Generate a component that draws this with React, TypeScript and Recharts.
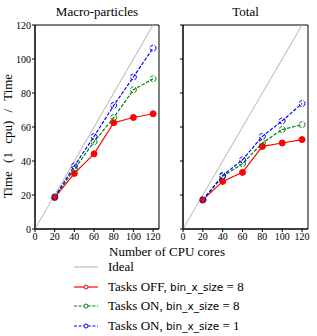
import React from "react";
import {
  LineChart,
  Line,
  XAxis,
  YAxis,
  ReferenceArea,
} from "recharts";

// cores used in the scaling runs
const cores = [20, 40, 60, 80, 100, 120];
const idealCores = [0, 120];
const ticks = [0, 20, 40, 60, 80, 100, 120];

// speed-up, macro-particles part
const macroTasksOff8 = [18.5, 32.7, 44.2, 62.5, 65.6, 67.8];
const macroTasksOn8 = [18.6, 35.2, 51.3, 65.6, 81.9, 88.4];
const macroTasksOn1 = [18.9, 37.1, 54.4, 72.7, 89.4, 106.4];

// speed-up, total time
const totalTasksOff8 = [17.1, 28.0, 33.3, 48.6, 50.6, 52.6];
const totalTasksOn8 = [17.0, 31.0, 38.4, 50.6, 58.5, 61.4];
const totalTasksOn1 = [17.2, 31.5, 40.7, 54.5, 63.6, 73.8];

const SERIF = "'Liberation Serif', 'DejaVu Serif', serif";
const RED = "#ff0000";
const GREEN = "#008000";
const BLUE = "#0000ff";
const IDEAL = "#bfbfbf";

const toRows = (off: number[], on8: number[], on1: number[]) =>
  cores.map((c, i) => ({ cores: c, off: off[i], on8: on8[i], on1: on1[i] }));

const idealRows = idealCores.map((c) => ({ cores: c, ideal: c }));

const tickStyle = { fontSize: 10, fontFamily: SERIF, fill: "#000" };

function Panel({
  rows,
  width,
  yWidth,
  showYLabels,
}: {
  rows: any[];
  width: number;
  yWidth: number;
  showYLabels: boolean;
}) {
  return (
    <LineChart
      width={width}
      height={250}
      data={rows}
      margin={{ top: 25, right: 7, left: 0, bottom: 0 }}
    >
      <XAxis
        dataKey="cores"
        type="number"
        domain={[0, 126]}
        ticks={ticks}
        interval={0}
        allowDataOverflow
        height={21}
        tickSize={3}
        tickMargin={1}
        tick={tickStyle}
        stroke="#000"
        tickLine={{ stroke: "#000" }}
      />
      <YAxis
        type="number"
        domain={[0, 120]}
        ticks={ticks}
        interval={0}
        width={yWidth}
        tickSize={3}
        tickMargin={1}
        tick={tickStyle}
        tickFormatter={showYLabels ? undefined : () => ""}
        stroke="#000"
        tickLine={{ stroke: "#000" }}
      />
      <ReferenceArea
        x1={0}
        x2={126}
        y1={0}
        y2={120}
        fill="none"
        stroke="#000"
        strokeWidth={1}
        ifOverflow="visible"
      />
      <Line
        data={idealRows}
        dataKey="ideal"
        stroke={IDEAL}
        strokeWidth={1.1}
        dot={false}
        isAnimationActive={false}
      />
      <Line
        dataKey="off"
        stroke={RED}
        strokeWidth={1.2}
        dot={{ r: 3, fill: RED, stroke: RED, strokeWidth: 1 }}
        isAnimationActive={false}
      />
      <Line
        dataKey="on8"
        stroke={GREEN}
        strokeWidth={1.2}
        strokeDasharray="3.5 1.6"
        dot={{ r: 3, fill: "none", stroke: GREEN, strokeWidth: 1 }}
        isAnimationActive={false}
      />
      <Line
        dataKey="on1"
        stroke={BLUE}
        strokeWidth={1.2}
        strokeDasharray="3.5 1.6"
        dot={{ r: 3, fill: "none", stroke: BLUE, strokeWidth: 1 }}
        isAnimationActive={false}
      />
    </LineChart>
  );
}

const legendItems = [
  { label: "Ideal", color: IDEAL, dash: undefined, marker: false, tail: "" },
  { label: "Tasks OFF, ", color: RED, dash: undefined, marker: true, tail: "8" },
  { label: "Tasks ON, ", color: GREEN, dash: "3 1.6", marker: true, tail: "8" },
  { label: "Tasks ON, ", color: BLUE, dash: "3 1.6", marker: true, tail: "1" },
];

export default function App() {
  const macroRows = toRows(macroTasksOff8, macroTasksOn8, macroTasksOn1);
  const totalRows = toRows(totalTasksOff8, totalTasksOn8, totalTasksOn1);

  return (
    <div
      style={{
        position: "absolute",
        left: 0,
        top: 0,
        width: 317,
        height: 336,
        background: "#fff",
        fontFamily: SERIF,
        color: "#000",
      }}
    >
      <div style={{ position: "absolute", left: 0, top: 0 }}>
        <Panel rows={macroRows} width={166} yWidth={35} showYLabels />
      </div>
      <div style={{ position: "absolute", left: 160, top: 0 }}>
        <Panel rows={totalRows} width={155} yWidth={23} showYLabels={false} />
      </div>

      <div style={{ position: "absolute", left: 25, width: 144, top: 4, textAlign: "center", fontSize: 13 }}>
        Macro-particles
      </div>
      <div style={{ position: "absolute", left: 183, width: 125, top: 4, textAlign: "center", fontSize: 13 }}>
        Total
      </div>
      <div
        style={{
          position: "absolute",
          left: 8,
          top: 136,
          transform: "translate(-50%, -50%) rotate(-90deg)",
          whiteSpace: "nowrap",
          fontSize: 13,
          wordSpacing: 5,
        }}
      >
        Time (1&nbsp;cpu) / Time
      </div>
      <div style={{ position: "absolute", left: 67, width: 200, top: 244, textAlign: "center", fontSize: 13 }}>
        Number of CPU cores
      </div>

      {legendItems.map((it, i) => (
        <div
          key={i}
          style={{
            position: "absolute",
            left: 73,
            top: 259 + i * 19.5,
            height: 16,
            display: "flex",
            alignItems: "center",
            whiteSpace: "nowrap",
            fontSize: 13,
          }}
        >
          <svg width={26} height={10} style={{ marginRight: 9 }}>
            <line x1={1} y1={5} x2={25} y2={5} stroke={it.color} strokeWidth={1.2} strokeDasharray={it.dash} />
            {it.marker && <circle cx={13} cy={5} r={2} fill="#fff" stroke={it.color} strokeWidth={1} />}
          </svg>
          <span>
            {it.label}
            {it.tail && (
              <>
                <span style={{ fontFamily: "'DejaVu Sans', sans-serif", fontSize: 10.5 }}>bin_x_size</span>
                {" = " + it.tail}
              </>
            )}
          </span>
        </div>
      ))}
    </div>
  );
}
